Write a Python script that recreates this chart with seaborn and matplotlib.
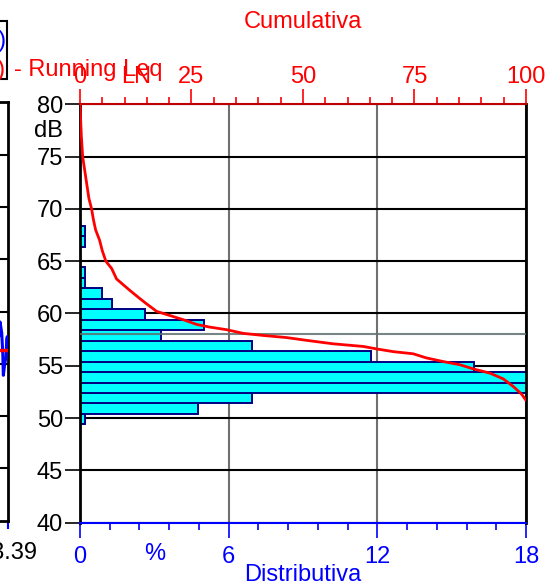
import numpy as np
import pandas as pd
import matplotlib
matplotlib.use("Agg")
import matplotlib.pyplot as plt
import matplotlib.transforms as mtransforms
from matplotlib.patches import Rectangle
from matplotlib.ticker import FixedLocator, MultipleLocator
import seaborn as sns


# ── Data ──────────────────────────────────────────────────────────
# distribution: 1 dB classes (centre level, % of time)
level_bins = [49.9, 50.9, 51.9, 52.9, 53.9, 54.9, 55.9, 56.9, 57.9, 58.9,
              59.9, 60.9, 61.9, 62.9, 63.9, 64.9, 65.9, 66.9, 67.9]
dist_pct   = [0.22, 4.77, 6.96, 20.0, 19.6, 15.9, 11.73, 6.96, 3.25, 5.0,
              2.62, 1.3, 0.87, 0.22, 0.22, 0.0, 0.0, 0.22, 0.22]

# cumulative curve (level, % exceeded)
cum_level = [80.0, 77.0, 75.0, 73.0, 71.0, 70.0, 69.0, 68.0, 67.0, 66.0,
             65.0, 64.3, 63.3, 62.2, 61.4, 60.9, 60.2, 59.8, 59.4, 58.95,
             58.7, 58.45, 58.1, 57.9, 57.7, 57.45, 57.1, 56.85, 56.6, 56.35,
             56.15, 55.75, 55.4, 55.1, 54.7, 54.3, 53.75, 53.0, 52.3, 51.7]
cum_pct   = [0.0, 0.3, 0.6, 1.3, 2.0, 2.6, 3.0, 3.5, 4.4, 5.0,
             5.8, 7.1, 8.2, 11.2, 13.5, 15.0, 17.2, 20.2, 23.2, 26.2,
             29.1, 32.9, 36.6, 41.1, 46.3, 50.5, 56.8, 63.5, 66.7, 70.3,
             74.7, 77.7, 81.5, 85.2, 88.2, 91.9, 94.9, 97.2, 99.0, 100.0]

# time history panel (only its right edge is visible)
hist_t     = [97.5, 98.09, 98.52, 98.78, 98.93, 99.29, 99.62, 99.8, 99.95, 100.0]
hist_level = [56.0, 59.0, 57.95, 56.05, 53.9, 55.0, 55.7, 57.3, 57.6, 57.0]
run_t      = [90.0, 100.0]
run_level  = [56.3, 56.3]

dist_ticks = [0, 6, 12, 18]
cum_ticks  = [0, 25, 50, 75, 100]
db_ticks   = [40, 45, 50, 55, 60, 65, 70, 75, 80]
leq_line   = 58.0
time_label = "13.39"


# ── Style ─────────────────────────────────────────────────────────
sns.set_style("white")
plt.rcParams["font.family"] = ["Liberation Sans", "DejaVu Sans"]
FS = 17

fig = plt.figure(figsize=(5.49, 5.87), dpi=100)

# ── Left (cut-off) time history panel ─────────────────────────────
ax_left = fig.add_axes([-0.7, 0.11295, 0.7137, 0.71277])
ax_left.set_xlim(0, 100)
ax_left.set_ylim(40, 80)
for y in db_ticks[1:-1]:
    ax_left.axhline(y, color="black", lw=1.5, zorder=1)
sns.lineplot(x=hist_t, y=hist_level, ax=ax_left, color="blue", lw=2.2,
             sort=False, estimator=None, zorder=3)
sns.lineplot(x=run_t, y=run_level, ax=ax_left, color="red", lw=2.5,
             sort=False, estimator=None, zorder=4)
ax_left.set_xlabel("")
ax_left.set_ylabel("")
ax_left.set_yticks([])
ax_left.set_xticks([100])
ax_left.set_xticklabels([time_label])
ax_left.tick_params(axis="x", colors="blue", labelcolor="black", length=6,
                    width=1.5, labelsize=FS, pad=9, direction="out", bottom=True)
for s in ax_left.spines.values():
    s.set_color("black")
    s.set_linewidth(2)

# ── Main distribution axes ────────────────────────────────────────
ax = fig.add_axes([0.1457, 0.10954, 0.8124, 0.71278])
dist_df = pd.DataFrame({"level": level_bins, "pct": dist_pct})
edges = [lv - 0.5 for lv in level_bins] + [level_bins[-1] + 0.5]
sns.histplot(data=dist_df, y="level", weights="pct", bins=edges, ax=ax,
             color="#00FFFF", edgecolor="#000080", linewidth=1.4, alpha=1,
             zorder=2)
ax.set_xlim(0, 18)
ax.set_ylim(40, 80)
ax.set_xlabel("")
ax.set_ylabel("")

ax.xaxis.set_major_locator(FixedLocator(dist_ticks))
ax.xaxis.set_minor_locator(MultipleLocator(1.2))
ax.yaxis.set_major_locator(FixedLocator(db_ticks))
ax.tick_params(axis="x", which="major", colors="blue", length=11, width=1.2,
               direction="out", labelsize=FS, pad=5.5, bottom=True)
ax.tick_params(axis="x", which="minor", colors="blue", length=5, width=1.2,
               direction="out", bottom=True)
ax.tick_params(axis="y", colors="black", length=11, width=1.2,
               direction="out", labelsize=FS, pad=1.2, left=True)

ax.set_axisbelow(True)
ax.yaxis.grid(True, color="black", lw=1.5)
ax.xaxis.grid(True, which="major", color="#707070", lw=1.5)

ax.spines["left"].set_color("black")
ax.spines["left"].set_linewidth(2)
ax.spines["right"].set_color("black")
ax.spines["right"].set_linewidth(2)
ax.spines["bottom"].set_color("blue")
ax.spines["bottom"].set_linewidth(1.5)
ax.spines["top"].set_visible(False)

# ── Cumulative (top) axes ─────────────────────────────────────────
ax_top = ax.twiny()
ax_top.axhline(leq_line, color="#607070", lw=1.5, alpha=0.85, zorder=3)
sns.lineplot(x=cum_pct, y=cum_level, ax=ax_top, color="red", lw=2.0,
             sort=False, estimator=None, zorder=5)
ax_top.set_xlim(0, 100)
ax_top.set_ylim(40, 80)
ax_top.set_xlabel("")
ax_top.set_ylabel("")
ax_top.xaxis.set_major_locator(FixedLocator(cum_ticks))
ax_top.xaxis.set_minor_locator(MultipleLocator(5))
ax_top.tick_params(axis="x", which="major", colors="red", length=11, width=1.2,
                   direction="out", labelsize=FS, pad=0.5, top=True)
ax_top.tick_params(axis="x", which="minor", colors="red", length=5, width=1.2,
                   direction="out", top=True)
ax_top.grid(False)
for side in ["left", "right", "bottom"]:
    ax_top.spines[side].set_visible(False)
ax_top.spines["top"].set_color("#c00000")
ax_top.spines["top"].set_linewidth(1.5)

# ── Unit labels & titles ──────────────────────────────────────────
tr_y = mtransforms.blended_transform_factory(ax.transAxes, ax.transData)
ax.text(-0.0375, 77.45, "dB", transform=tr_y, ha="right", va="center",
        fontsize=FS, color="black")
tr_x = mtransforms.blended_transform_factory(ax.transData, ax.transAxes)
ax.text(3, -0.0745, "%", transform=tr_x, ha="center", va="center",
        fontsize=FS, color="blue")
tr_top = mtransforms.blended_transform_factory(ax_top.transData, ax_top.transAxes)
ax_top.text(12.5, 1.066, "LN", transform=tr_top, ha="center", va="center",
            fontsize=FS, color="red")

fig.text(0.551, 0.962, "Cumulativa", ha="center", va="center",
         fontsize=FS, color="red")
fig.text(0.552, 0.021, "Distributiva", ha="center", va="center",
         fontsize=FS, color="blue")

# ── Cut-off legend box ────────────────────────────────────────────
fig.add_artist(Rectangle((-0.2, 0.8649), 0.2133, 0.0998,
                         transform=fig.transFigure, fill=False,
                         edgecolor="black", lw=1.5))
fig.text(0.0109, 0.931, "Leq(A)", ha="right", va="center",
         fontsize=FS, color="blue")
fig.text(0.0087, 0.880, "Leq(A)", ha="right", va="center",
         fontsize=FS, color="red")
fig.text(0.0255, 0.880, "- Running Leq", ha="left", va="center",
         fontsize=FS, color="red")

fig.savefig("out.png", dpi=100)
plt.close(fig)
